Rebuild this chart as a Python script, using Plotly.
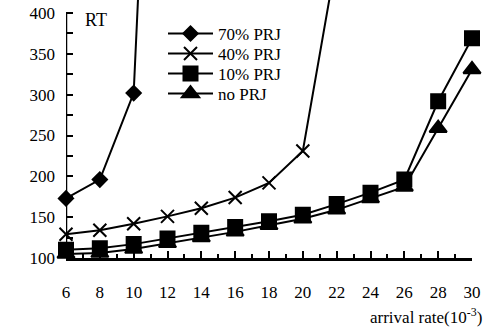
import plotly.graph_objects as go

# arrival rate (x 10^-3)
rates = [6, 8, 10, 12, 14, 16, 18, 20, 22, 24, 26, 28, 30]

# response time per rejection level
rt_70 = [173, 196, 302, 1200]
rt_40 = [129, 134, 142, 151, 161, 174, 192, 231, 468]
rt_10 = [110, 112, 117, 124, 131, 138, 145, 153, 166, 180, 196, 292, 369]
rt_no = [105, 106, 111, 118, 125, 132, 140, 148, 159, 173, 187, 259, 331]

# y-axis tick values (labels every 50, marks every 25)
y_labels = [100, 150, 200, 250, 300, 350, 400]

series = [
    ("70% PRJ", rt_70, "diamond", 11),
    ("40% PRJ", rt_40, "x-thin", 13),
    ("10% PRJ", rt_10, "square", 14),
    ("no PRJ", rt_no, "triangle-up", 15),
]

FONT = "Liberation Serif, Times New Roman, serif"

fig = go.Figure()

legend_ids = ["legend", "legend2", "legend3", "legend4"]
legend_rows = [34, 54, 74, 94]  # pixel row of each legend entry

for (name, vals, sym, size), lid in zip(series, legend_ids):
    fig.add_trace(go.Scatter(
        x=rates[:len(vals)], y=vals, name=name, mode="lines+markers",
        line=dict(color="black", width=2),
        marker=dict(symbol=sym, size=size, color="black",
                    line=dict(color="black", width=2)),
        cliponaxis=False, legend=lid, showlegend=True,
    ))

layout_legends = {}
for lid, row in zip(legend_ids, legend_rows):
    layout_legends[lid] = dict(
        x=(163 - 66) / 406, y=(258 - row) / 258, xanchor="left", yanchor="middle",
        bgcolor="rgba(0,0,0,0)", font=dict(size=17, family=FONT),
        itemwidth=45,
    )

fig.update_layout(
    template="none",
    width=492, height=334,
    margin=dict(l=66, r=20, t=0, b=76),
    paper_bgcolor="white", plot_bgcolor="white",
    font=dict(family=FONT, size=17, color="black"),
    showlegend=True,
    **layout_legends,
)

fig.update_xaxes(
    range=[6, 30], tickmode="array", tickvals=rates, ticktext=[str(r) for r in rates],
    showgrid=False, zeroline=False,
    showline=True, linecolor="black", linewidth=2.5,
    ticks="inside", ticklen=7, tickwidth=2, tickcolor="black",
    minor=dict(dtick=1, tick0=6, ticks="inside", ticklen=4, tickwidth=2,
               tickcolor="black", showgrid=False),
    ticklabelstandoff=17,
    tickfont=dict(size=17, family=FONT),
)

fig.update_yaxes(
    range=[100, 416], tickmode="array", tickvals=y_labels,
    ticktext=[str(v) for v in y_labels],
    showgrid=False, zeroline=False, showline=False,
    ticks="inside", ticklen=7, tickwidth=2, tickcolor="black",
    minor=dict(dtick=25, tick0=100, ticks="inside", ticklen=7, tickwidth=2,
               tickcolor="black", showgrid=False),
    ticklabelstandoff=10,
    tickfont=dict(size=17, family=FONT),
)

# vertical axis line stops at the top tick (400)
fig.add_shape(type="line", xref="x", yref="y", x0=6, x1=6, y0=100, y1=400,
              line=dict(color="black", width=2.5), layer="above")

fig.add_annotation(text="RT", xref="paper", yref="paper",
                   x=(83 - 66) / 406, y=(258 - 20) / 258,
                   xanchor="left", yanchor="middle", showarrow=False,
                   font=dict(size=18, family=FONT))
fig.add_annotation(text="arrival rate(10<sup>-3</sup>)", xref="paper", yref="paper",
                   x=(484 - 66) / 406, y=(258 - 316) / 258,
                   xanchor="right", yanchor="middle", showarrow=False,
                   font=dict(size=17, family=FONT))

fig.write_html("out.html")
